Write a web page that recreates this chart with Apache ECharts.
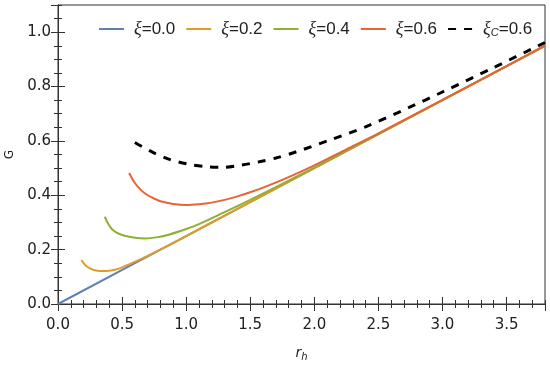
<!DOCTYPE html>
<html>
<head>
<meta charset="utf-8">
<script src="https://cdn.jsdelivr.net/npm/echarts@6/dist/echarts.min.js"></script>
<style>html,body{margin:0;padding:0;background:#fff}#c{width:550px;height:367px}</style>
</head>
<body>
<div id="c"></div>
<script>
// ---- data (r_h, G) ----
const seriesNames = ['ξ=0.0', 'ξ=0.2', 'ξ=0.4', 'ξ=0.6', 'ξC=0.6'];
const xi00 = [[0, 0], [1, 0.25], [2, 0.5], [3, 0.75], [3.8, 0.95]];
const xi02 = [[0.184,0.162],[0.20,0.150],[0.22,0.140],[0.25,0.131],[0.28,0.125],[0.33,0.121],[0.40,0.122],[0.48,0.131],[0.56,0.147],[0.65,0.166],[0.75,0.189],[0.9,0.225],[1.1,0.275],[1.5,0.375],[2,0.5],[2.5,0.625],[3,0.75],[3.5,0.875],[3.8,0.95]];
const xi04 = [[0.365,0.321],[0.39,0.296],[0.42,0.276],[0.46,0.262],[0.52,0.251],[0.6,0.244],[0.68,0.241],[0.78,0.246],[0.87,0.256],[1.0,0.276],[1.1,0.294],[1.3,0.338],[1.5,0.383],[1.75,0.442],[2.0,0.502],[2.5,0.625],[3,0.75],[3.5,0.875],[3.8,0.95]];
const xi06 = [[0.555,0.482],[0.6,0.445],[0.65,0.418],[0.7,0.400],[0.75,0.388],[0.8,0.378],[0.9,0.368],[1.0,0.364],[1.1,0.367],[1.2,0.373],[1.3,0.383],[1.4,0.396],[1.5,0.411],[1.6,0.428],[1.8,0.467],[2.0,0.510],[2.25,0.569],[2.5,0.628],[3.0,0.751],[3.5,0.875],[3.8,0.951]];
const xiC06 = [[0.60,0.594],[0.74,0.558],[0.87,0.532],[1.01,0.515],[1.16,0.505],[1.29,0.503],[1.43,0.511],[1.57,0.523],[1.70,0.537],[1.86,0.560],[2.12,0.603],[2.40,0.652],[2.74,0.723],[3.0,0.780],[3.4,0.870],[3.8,0.962]];
const xTicks = { min: 0, max: 3.8, major: 0.5, minor: 0.1 };
const yTicks = { min: 0, max: 1.1, major: 0.2, minor: 0.05 };

const colors = ['#5E81B5', '#E19C24', '#8FB032', '#EB6235', '#000000'];
const frame = '#333';
const tickFont = { fontFamily: 'DejaVu Sans', fontSize: 15, color: '#222' };

function axisPair(kind, pos, withLabels, extra) {
  const t = kind === 'x' ? xTicks : yTicks;
  const main = Object.assign({
    type: 'value', position: pos, min: t.min, max: t.max, interval: t.major,
    axisLine: { show: true, lineStyle: { color: frame, width: 1 } },
    axisTick: { show: true, inside: true, length: 7, lineStyle: { color: frame } },
    splitLine: { show: false },
    axisLabel: withLabels ? Object.assign({ show: true, showMaxLabel: false,
      margin: kind === 'x' ? 14 : 7, formatter: v => v.toFixed(1) }, tickFont) : { show: false }
  }, extra || {});
  const minor = {
    type: 'value', position: pos, min: t.min, max: t.max, interval: t.minor,
    axisLine: { show: false },
    axisTick: { show: true, inside: true, length: 4, lineStyle: { color: frame } },
    splitLine: { show: false }, axisLabel: { show: false }
  };
  return [main, minor];
}

const xAxes = [
  ...axisPair('x', 'bottom', true, {
    name: '{i|r}{s|h}', nameLocation: 'middle', nameGap: 40,
    nameTextStyle: { rich: {
      i: { fontFamily: 'DejaVu Sans', fontStyle: 'italic', fontSize: 14, color: '#222' },
      s: { fontFamily: 'DejaVu Sans', fontStyle: 'italic', fontSize: 10, color: '#222', padding: [8, 0, 0, 0] } } }
  }),
  ...axisPair('x', 'top', false)
];
const yAxes = [
  ...axisPair('y', 'left', true, {
    name: 'G', nameLocation: 'middle', nameGap: 40, nameRotate: 90,
    nameTextStyle: { fontFamily: 'DejaVu Sans', fontSize: 12, color: '#222' }
  }),
  ...axisPair('y', 'right', false)
];

const dataSets = [xi00, xi02, xi04, xi06, xiC06];
const series = dataSets.map((d, i) => ({
  name: seriesNames[i], type: 'line', data: d, smooth: 0.3,
  showSymbol: false, symbol: 'none', xAxisIndex: 0, yAxisIndex: 0,
  lineStyle: i === 4 ? { color: colors[i], width: 3, type: [8, 8] } : { color: colors[i], width: 2 },
  itemStyle: { color: colors[i] },
  z: i === 4 ? 5 : 2 + i
}));

const chart = echarts.init(document.getElementById('c'), null, { renderer: 'canvas' });
chart.setOption({
  animation: false,
  backgroundColor: '#fff',
  grid: { left: 58, right: 5, top: 5, bottom: 63, show: true, borderColor: frame, borderWidth: 1,
          containLabel: false, outerBoundsMode: 'none' },
  xAxis: xAxes,
  yAxis: yAxes,
  legend: {
    left: 93, top: 15, itemWidth: 25, itemHeight: 14, itemGap: 10,
    itemStyle: { opacity: 0 },
    data: seriesNames,
    formatter: name => name === 'ξC=0.6'
      ? '{i|ξ}{s|C}{n|=0.6}'
      : '{i|ξ}{n|' + name.slice(1) + '}',
    textStyle: { rich: {
      i: { fontFamily: 'Liberation Serif', fontStyle: 'italic', fontSize: 18, color: '#222', padding: [0, 0, 0, 5] },
      s: { fontFamily: 'Liberation Sans', fontStyle: 'italic', fontSize: 11, color: '#222', padding: [8, 0, 0, 0] },
      n: { fontFamily: 'Liberation Sans', fontSize: 17, color: '#222' }
    } }
  },
  series: series
});
</script>
</body>
</html>
